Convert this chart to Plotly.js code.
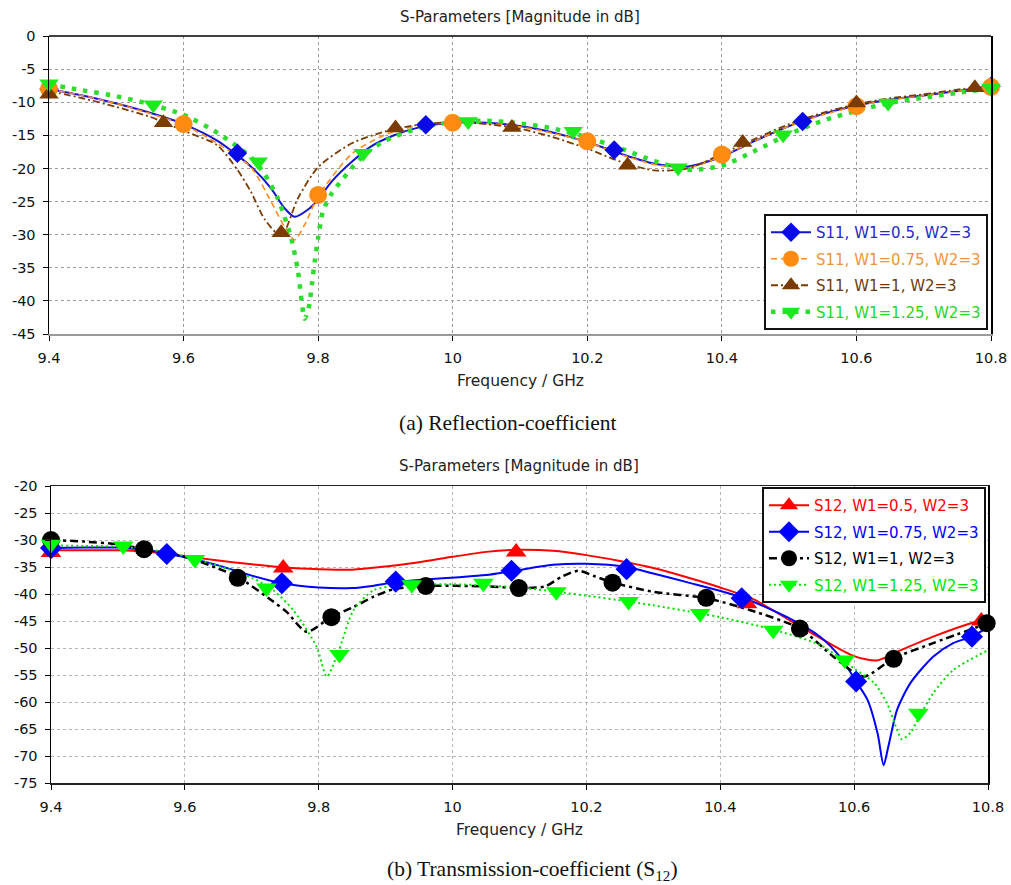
<!DOCTYPE html>
<html>
<head>
<meta charset="utf-8">
<script src="https://cdn.plot.ly/plotly-3.0.1.min.js"></script>
<style>html,body{margin:0;padding:0;background:#fff;}#chart{width:1011px;height:885px;}</style>
</head>
<body>
<div id="chart"></div>
<script>
// ---------- Tick labels ----------
const freqTicks = [9.4, 9.6, 9.8, 10.0, 10.2, 10.4, 10.6, 10.8];
const freqTickText = ['9.4', '9.6', '9.8', '10', '10.2', '10.4', '10.6', '10.8'];
const s11Ticks = [0, -5, -10, -15, -20, -25, -30, -35, -40, -45];
const s12Ticks = [-20, -25, -30, -35, -40, -45, -50, -55, -60, -65, -70, -75];

// ---------- (a) S11 curves ----------
const s11_w050_f = [9.4,9.45,9.5,9.55,9.6,9.65,9.7,9.73,9.75,9.765,9.785,9.8,9.82,9.85,9.88,9.91,9.95,10.0,10.05,10.1,10.15,10.2,10.25,10.3,10.35,10.4,10.45,10.5,10.55,10.6,10.65,10.7,10.75,10.8];
const s11_w050_db = [-8.0,-9.0,-10.2,-11.6,-13.3,-15.8,-19.7,-23.0,-26.0,-27.3,-26.2,-24.7,-22.0,-19.0,-16.6,-15.1,-13.8,-13.1,-13.1,-13.6,-14.6,-16.0,-17.8,-19.3,-19.7,-18.2,-15.8,-13.6,-11.8,-10.5,-9.6,-9.0,-8.3,-7.6];

const s11_w075_f = [9.4,9.45,9.5,9.55,9.6,9.65,9.7,9.73,9.75,9.765,9.78,9.8,9.85,9.9,9.95,10.0,10.05,10.1,10.15,10.2,10.25,10.3,10.35,10.4,10.45,10.5,10.55,10.6,10.65,10.7,10.75,10.8];
const s11_w075_db = [-8.0,-9.0,-10.2,-11.7,-13.4,-16.2,-19.8,-25.0,-28.8,-30.8,-28.5,-24.2,-17.8,-14.9,-13.5,-13.1,-13.2,-13.7,-14.7,-16.0,-17.9,-19.4,-19.9,-18.1,-15.8,-13.6,-11.9,-10.6,-9.6,-9.0,-8.3,-7.7];

const s11_w100_f = [9.4,9.45,9.5,9.55,9.6,9.65,9.68,9.7,9.72,9.745,9.77,9.8,9.85,9.9,9.95,10.0,10.05,10.1,10.15,10.2,10.25,10.3,10.35,10.4,10.45,10.5,10.55,10.6,10.65,10.7,10.75,10.8];
const s11_w100_db = [-8.3,-9.4,-10.7,-12.2,-14.3,-16.5,-20.2,-23.5,-27.6,-30.2,-24.5,-19.8,-16.2,-14.4,-13.4,-13.0,-13.3,-14.0,-15.3,-17.0,-19.0,-20.3,-20.0,-17.8,-15.5,-13.3,-11.6,-10.3,-9.4,-8.8,-8.1,-7.5];

const s11_w125_f = [9.4,9.45,9.5,9.55,9.6,9.65,9.7,9.72,9.74,9.75,9.76,9.77,9.78,9.786,9.791,9.795,9.8,9.807,9.82,9.835,9.852,9.87,9.9,9.95,10.0,10.05,10.1,10.15,10.2,10.25,10.3,10.35,10.4,10.45,10.5,10.55,10.6,10.65,10.7,10.75,10.8];
const s11_w125_db = [-7.3,-8.2,-9.1,-10.3,-11.9,-14.6,-18.3,-20.8,-24.5,-27.3,-30.5,-35.5,-42.7,-41.0,-37.3,-34.0,-30.5,-26.5,-23.8,-21.8,-19.7,-17.8,-15.8,-13.9,-13.0,-12.8,-13.2,-14.0,-15.3,-17.0,-18.9,-20.2,-19.6,-17.3,-14.8,-12.8,-11.3,-10.1,-9.3,-8.6,-7.9];

// (a) marker points
const s11_w050_mf = [9.4,9.68,9.96,10.24,10.52,10.8];
const s11_w050_mdb = [-8.0,-17.7,-13.4,-17.2,-12.9,-7.6];
const s11_w075_mf = [9.4,9.6,9.8,10.0,10.2,10.4,10.6,10.8];
const s11_w075_mdb = [-8.0,-13.3,-24.0,-13.1,-15.9,-17.9,-10.6,-7.7];
const s11_w100_mf = [9.4,9.57,9.745,9.915,10.088,10.26,10.431,10.6,10.776];
const s11_w100_mdb = [-8.8,-13.1,-29.7,-13.9,-13.8,-19.5,-16.1,-10.1,-7.8];
const s11_w125_mf = [9.4,9.555,9.711,9.867,10.023,10.179,10.335,10.491,10.647,10.8];
const s11_w125_mdb = [-7.2,-10.4,-19.0,-17.7,-12.9,-14.4,-19.9,-14.9,-10.1,-7.9];

// ---------- (b) S12 curves ----------
const s12_w050_f = [9.4,9.45,9.5,9.55,9.6,9.65,9.7,9.75,9.8,9.85,9.9,9.95,10.0,10.05,10.1,10.15,10.2,10.25,10.3,10.35,10.4,10.45,10.5,10.55,10.6,10.634,10.668,10.718,10.783,10.8];
const s12_w050_db = [-31.9,-31.9,-31.9,-32.2,-33.0,-33.8,-34.5,-35.1,-35.4,-35.5,-34.9,-34.1,-33.1,-32.2,-31.8,-32.0,-32.8,-33.9,-35.2,-36.9,-38.8,-41.0,-44.6,-48.2,-51.5,-52.3,-50.5,-47.9,-45.1,-44.6];

const s12_w075_f = [9.4,9.45,9.5,9.55,9.6,9.65,9.7,9.745,9.8,9.85,9.88,9.915,9.96,10.01,10.05,10.088,10.15,10.2,10.26,10.3,10.35,10.432,10.5,10.55,10.58,10.603,10.62,10.635,10.644,10.651,10.664,10.684,10.718,10.748,10.776,10.8];
const s12_w075_db = [-31.5,-31.4,-31.4,-32.0,-33.2,-34.7,-36.6,-38.0,-38.8,-38.9,-38.5,-37.8,-37.3,-36.9,-36.5,-35.8,-34.6,-34.4,-35.0,-36.2,-37.8,-40.6,-44.3,-48.0,-51.8,-56.2,-59.6,-65.8,-71.7,-68.3,-61.5,-56.5,-51.6,-49.1,-47.9,-46.1];

const s12_w100_f = [9.4,9.45,9.5,9.539,9.6,9.65,9.68,9.732,9.752,9.782,9.819,9.852,9.882,9.912,9.96,10.05,10.1,10.138,10.163,10.188,10.214,10.24,10.3,10.38,10.445,10.519,10.569,10.614,10.659,10.718,10.8];
const s12_w100_db = [-30.0,-30.3,-30.8,-31.7,-33.1,-35.3,-36.9,-41.4,-43.3,-47.0,-44.2,-42.4,-40.5,-39.1,-38.5,-38.6,-38.9,-38.6,-36.8,-35.7,-36.8,-37.9,-39.6,-40.8,-43.0,-46.4,-51.6,-55.3,-51.9,-49.1,-45.4];

const s12_w125_f = [9.4,9.45,9.5,9.55,9.6,9.65,9.7,9.732,9.762,9.797,9.812,9.83,9.852,9.882,9.92,9.95,10.0,10.046,10.1,10.155,10.2,10.263,10.3,10.37,10.4,10.479,10.55,10.6,10.63,10.649,10.664,10.671,10.684,10.699,10.718,10.748,10.8];
const s12_w125_db = [-31.0,-31.1,-31.2,-31.8,-33.0,-34.8,-37.0,-39.3,-43.0,-49.8,-55.3,-50.5,-43.0,-39.3,-38.4,-38.2,-38.2,-38.4,-38.8,-39.6,-40.3,-41.4,-42.1,-43.6,-44.3,-46.6,-49.5,-53.8,-56.5,-60.2,-65.1,-66.9,-65.7,-62.4,-58.4,-54.1,-50.4];

// (b) marker points
const s12_w050_mf = [9.4,9.747,10.095,10.44,10.79];
const s12_w050_mdb = [-32.3,-35.2,-32.2,-41.8,-45.0];
const s12_w075_mf = [9.4,9.573,9.745,9.915,10.088,10.26,10.432,10.603,10.776];
const s12_w075_mdb = [-31.5,-32.6,-38.0,-37.7,-35.7,-35.4,-40.8,-56.2,-47.9];
const s12_w100_mf = [9.4,9.539,9.679,9.819,9.96,10.099,10.239,10.379,10.519,10.659,10.798];
const s12_w100_mdb = [-30.0,-31.7,-37.0,-44.3,-38.5,-38.9,-37.9,-40.7,-46.4,-52.0,-45.4];
const s12_w125_mf = [9.4,9.508,9.615,9.722,9.831,9.939,10.046,10.155,10.263,10.37,10.479,10.586,10.696];
const s12_w125_mdb = [-30.8,-31.1,-33.6,-38.9,-51.2,-38.3,-38.0,-39.6,-41.4,-43.6,-46.7,-52.2,-62.1];

// ---------- series names ----------
const s11Names = ['S11, W1=0.5, W2=3', 'S11, W1=0.75, W2=3', 'S11, W1=1, W2=3', 'S11, W1=1.25, W2=3'];
const s12Names = ['S12, W1=0.5, W2=3', 'S12, W1=0.75, W2=3', 'S12, W1=1, W2=3', 'S12, W1=1.25, W2=3'];

// ---------- helpers ----------
function isolated(xs, ys) {
  const X = [], Y = [];
  xs.forEach((x, i) => { X.push(x, null); Y.push(ys[i], null); });
  return {X, Y};
}
function curve(xs, ys, line, group, ax) {
  return {type: 'scatter', mode: 'lines', x: xs, y: ys, xaxis: ax[0], yaxis: ax[1],
    line: Object.assign({shape: 'spline', smoothing: 0.7}, line),
    showlegend: false, legendgroup: group, hoverinfo: 'skip', legend: ax[2]};
}
function markers(xs, ys, line, marker, name, textColor, group, ax) {
  const p = isolated(xs, ys);
  return {type: 'scatter', mode: 'lines+markers', x: p.X, y: p.Y, xaxis: ax[0], yaxis: ax[1],
    connectgaps: false, cliponaxis: false, line: line,
    marker: Object.assign({line: {width: 0}}, marker),
    name: '<span style="color:' + textColor + '">' + name + '</span>',
    legendgroup: group, legend: ax[2]};
}

const axA = ['x', 'y', 'legend'];
const axB = ['x2', 'y2', 'legend2'];

// top styles
const stA = [
  {line: {color: '#1414d2', width: 2}, marker: {symbol: 'diamond', size: 15, color: '#0a0ae6'}, text: '#2828c8'},
  {line: {color: '#ff8a1e', width: 1.6, dash: '6px,4px'}, marker: {symbol: 'circle', size: 18, color: '#ff8c10'}, text: '#f0943c'},
  {line: {color: '#7a3c00', width: 1.8, dash: '7px,3px,2px,3px'}, marker: {symbol: 'triangle-up', size: 17, color: '#7a3c00'}, text: '#6e3a0a'},
  {line: {color: '#2edc2e', width: 4.5, dash: '4.5px,7px'}, marker: {symbol: 'triangle-down', size: 17, color: '#1ee81e'}, text: '#28d428'}
];
// bottom styles
const stB = [
  {line: {color: '#ff0000', width: 2}, marker: {symbol: 'triangle-up', size: 18, color: '#ff0000'}, text: '#ff0000'},
  {line: {color: '#0000ff', width: 2}, marker: {symbol: 'diamond', size: 17, color: '#0000ff'}, text: '#0000ff'},
  {line: {color: '#000000', width: 2.5, dash: '8px,4px,3px,4px'}, marker: {symbol: 'circle', size: 18, color: '#000000'}, text: '#000000'},
  {line: {color: '#00e000', width: 2, dash: '2px,3px'}, marker: {symbol: 'triangle-down', size: 18, color: '#00ff00'}, text: '#00e600'}
];

const curvesA = [[s11_w050_f, s11_w050_db], [s11_w075_f, s11_w075_db], [s11_w100_f, s11_w100_db], [s11_w125_f, s11_w125_db]];
const marksA = [[s11_w050_mf, s11_w050_mdb], [s11_w075_mf, s11_w075_mdb], [s11_w100_mf, s11_w100_mdb], [s11_w125_mf, s11_w125_mdb]];
const curvesB = [[s12_w050_f, s12_w050_db], [s12_w075_f, s12_w075_db], [s12_w100_f, s12_w100_db], [s12_w125_f, s12_w125_db]];
const marksB = [[s12_w050_mf, s12_w050_mdb], [s12_w075_mf, s12_w075_mdb], [s12_w100_mf, s12_w100_mdb], [s12_w125_mf, s12_w125_mdb]];

const traces = [];
curvesA.forEach((c, i) => traces.push(curve(c[0], c[1], stA[i].line, 'a' + i, axA)));
marksA.forEach((m, i) => traces.push(markers(m[0], m[1], stA[i].line, stA[i].marker, s11Names[i], stA[i].text, 'a' + i, axA)));
curvesB.forEach((c, i) => traces.push(curve(c[0], c[1], stB[i].line, 'b' + i, axB)));
marksB.forEach((m, i) => traces.push(markers(m[0], m[1], stB[i].line, stB[i].marker, s12Names[i], stB[i].text, 'b' + i, axB)));

const W = 1011, H = 885;
const px = v => v / W, py = v => 1 - v / H;
const tickFont = {family: 'DejaVu Sans, sans-serif', size: 14.5, color: '#111'};

function xAxis(domain, anchor, lineColor, mirror, gridColor) {
  return {domain: domain, anchor: anchor, range: [9.4, 10.8], tickmode: 'array', tickvals: freqTicks, ticktext: freqTickText,
    ticks: 'outside', ticklen: 5, tickcolor: '#000', tickwidth: 1, tickfont: tickFont, ticklabelstandoff: 5,
    showline: true, linecolor: lineColor, linewidth: 1.5, mirror: mirror,
    showgrid: true, gridcolor: gridColor, griddash: 'dot', gridwidth: 1, zeroline: false, fixedrange: true};
}
function yAxis(domain, anchor, range, vals, gridColor) {
  return {domain: domain, anchor: anchor, range: range, tickmode: 'array', tickvals: vals, ticktext: vals.map(String),
    ticks: 'outside', ticklen: 5, tickcolor: '#000', tickwidth: 1, tickfont: tickFont, ticklabelstandoff: 4,
    showline: true, linecolor: '#000', linewidth: 1.5, mirror: true,
    showgrid: true, gridcolor: gridColor, griddash: 'dot', gridwidth: 1, zeroline: false, fixedrange: true};
}

const titleFont = {family: 'DejaVu Sans, sans-serif', size: 15, color: '#222'};
const axTitleFont = {family: 'DejaVu Sans, sans-serif', size: 15.5, color: '#222'};
const capFont = {family: 'Liberation Serif, Times New Roman, serif', size: 21.5, color: '#111'};
function ann(text, x, y, font) {
  return {text: text, xref: 'paper', yref: 'paper', x: px(x), y: py(y), xanchor: 'center', yanchor: 'middle', showarrow: false, font: font};
}

const layout = {
  width: W, height: H, margin: {l: 0, r: 0, t: 0, b: 0},
  paper_bgcolor: '#ffffff', plot_bgcolor: '#ffffff',
  font: {family: 'DejaVu Sans, sans-serif', size: 15, color: '#000'},
  showlegend: true, hovermode: false,
  xaxis: xAxis([px(49), px(991)], 'y', '#9a9a9a', false, '#9c9c9c'),
  yaxis: yAxis([py(334), py(36)], 'x', [-45, 0], s11Ticks, '#9c9c9c'),
  xaxis2: xAxis([px(51), px(988)], 'y2', '#222', true, '#b4b4b4'),
  yaxis2: yAxis([py(783), py(486)], 'x2', [-75, -20], s12Ticks, '#b4b4b4'),
  legend: {x: px(988), xanchor: 'right', y: py(330), yanchor: 'bottom', bgcolor: '#ffffff',
    bordercolor: '#111', borderwidth: 2, font: {family: 'DejaVu Sans, sans-serif', size: 15},
    itemwidth: 40, tracegroupgap: 4, itemsizing: 'trace'},
  legend2: {x: px(986), xanchor: 'right', y: py(487), yanchor: 'top', bgcolor: '#ffffff',
    bordercolor: '#111', borderwidth: 2, font: {family: 'DejaVu Sans, sans-serif', size: 15},
    itemwidth: 40, tracegroupgap: 4, itemsizing: 'trace'},
  shapes: [
    {type: 'line', xref: 'paper', yref: 'paper', x0: px(49), x1: px(991), y0: py(36), y1: py(36), line: {color: '#000', width: 1.5}}
  ],
  annotations: [
    ann('S-Parameters [Magnitude in dB]', 520, 17, titleFont),
    ann('Frequency / GHz', 520, 381, axTitleFont),
    ann('(a) Reflection-coefficient', 507, 423, capFont),
    ann('S-Parameters [Magnitude in dB]', 519, 466, titleFont),
    ann('Frequency / GHz', 519, 830, axTitleFont),
    ann('(b) Transmission-coefficient (S<sub>12</sub>)', 532, 870, capFont)
  ]
};

Plotly.newPlot('chart', traces, layout, {staticPlot: true, displayModeBar: false});
</script>
</body>
</html>
